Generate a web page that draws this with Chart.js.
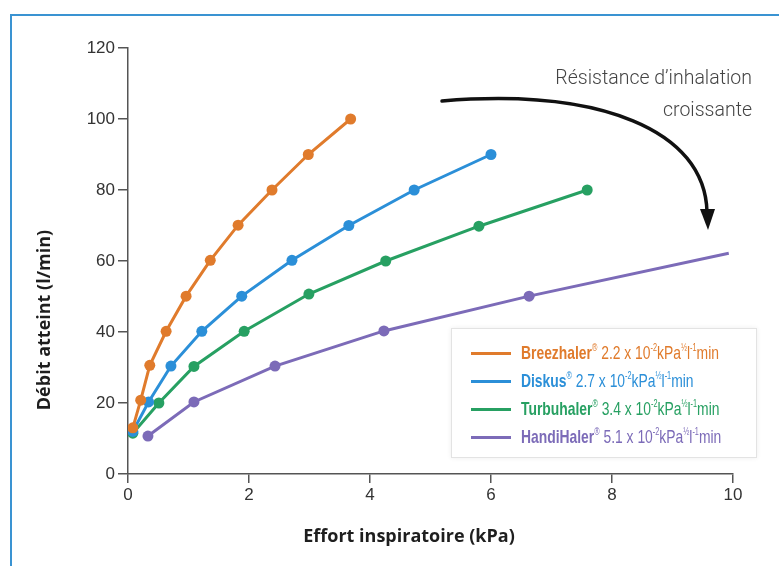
<!DOCTYPE html>
<html>
<head>
<meta charset="utf-8">
<script src="https://cdn.jsdelivr.net/npm/chart.js@4"></script>
<style>
  html, body { margin: 0; padding: 0; background: #fff; }
  #wrap { position: relative; width: 779px; height: 566px; overflow: hidden; }
  #frame { position: absolute; left: 10px; top: 14px; right: -5px; bottom: -5px;
           border-top: 2px solid #3a93d2; border-left: 2px solid #3a93d2; }
  #chart { position: absolute; left: 0; top: 0; }
  #legend { position: absolute; left: 451px; top: 328px; width: 306px; height: 130px;
            box-sizing: border-box; border: 1px solid #e3e3e3; background: #fff;
            box-shadow: 0 0 5px rgba(0,0,0,0.07); padding-top: 10px; }
  .row { height: 28px; display: flex; align-items: center; white-space: nowrap;
         font-family: 'Liberation Sans', Arial, sans-serif; font-size: 19px; }
  .sw { flex: none; width: 40px; height: 3px; margin-left: 19px; margin-right: 10px; }
  .lbl { display: inline-block; transform: scaleX(0.73); transform-origin: left center; }
  .lbl b { font-weight: bold; }
  .lbl sup { font-size: 10px; vertical-align: 8px; line-height: 0; }
</style>
</head>
<body>
<div id="wrap">
  <div id="frame"></div>
  <canvas id="chart" width="779" height="566"></canvas>
  <div id="legend"></div>
</div>
<script>
// ─── DONNÉES ───
const deviceNames = ['Breezhaler', 'Diskus', 'Turbuhaler', 'HandiHaler'];
const resistances = ['2.2', '2.7', '3.4', '5.1'];
const deviceColors = ['#e07b2c', '#2b8fd8', '#27a062', '#7c6bb8'];

const effortBreezhaler = [0.08, 0.21, 0.36, 0.63, 0.96, 1.36, 1.82, 2.38, 2.98, 3.68];
const debitBreezhaler  = [13, 20.8, 30.6, 40.2, 50.1, 60.2, 70.1, 80, 90, 100];

const effortDiskus = [0.08, 0.34, 0.71, 1.22, 1.88, 2.71, 3.65, 4.73, 6.0];
const debitDiskus  = [12, 20.3, 30.4, 40.2, 50.1, 60.2, 70, 80, 90];

const effortTurbuhaler = [0.08, 0.51, 1.09, 1.92, 2.99, 4.26, 5.8, 7.59];
const debitTurbuhaler  = [11.5, 20, 30.3, 40.2, 50.7, 60, 69.8, 80];

const effortHandiHaler = [0.33, 1.09, 2.43, 4.23, 6.63, 9.93];
const debitHandiHaler  = [10.7, 20.3, 30.4, 40.3, 50.1, 62.2];

const xTicks = [0, 2, 4, 6, 8, 10];
const yTicks = [0, 20, 40, 60, 80, 100, 120];

const xTitle = 'Effort inspiratoire (kPa)';
const yTitle = 'Débit atteint (l/min)';
const noteLines = ['Résistance d’inhalation', 'croissante'];

const seriesX = [effortBreezhaler, effortDiskus, effortTurbuhaler, effortHandiHaler];
const seriesY = [debitBreezhaler, debitDiskus, debitTurbuhaler, debitHandiHaler];

// ─── LÉGENDE ───
const legendEl = document.getElementById('legend');
deviceNames.forEach((name, i) => {
  const row = document.createElement('div');
  row.className = 'row';
  row.style.color = deviceColors[i];
  row.innerHTML = `<span class="sw" style="background:${deviceColors[i]}"></span>` +
    `<span class="lbl"><b>${name}</b><sup>®</sup> ${resistances[i]} x 10<sup>-2</sup>kPa<sup>½</sup>l<sup>-1</sup>min</span>`;
  legendEl.appendChild(row);
});

// ─── TITRES + FLÈCHE ───
const decorPlugin = {
  id: 'decor',
  afterDraw(chart) {
    const ctx = chart.ctx;
    ctx.save();
    ctx.fillStyle = '#1e1e1e';
    ctx.font = 'bold 18px "Open Sans", sans-serif';
    ctx.textAlign = 'center';
    ctx.textBaseline = 'middle';
    ctx.fillText(xTitle, 409, 537);
    ctx.translate(45, 320);
    ctx.rotate(-Math.PI / 2);
    ctx.fillText(yTitle, 0, 0);
    ctx.restore();

    ctx.save();
    ctx.fillStyle = '#444';
    ctx.font = '300 19.5px Roboto, sans-serif';
    ctx.textAlign = 'right';
    ctx.textBaseline = 'alphabetic';
    ctx.fillText(noteLines[0], 752, 84);
    ctx.fillText(noteLines[1], 752, 116);

    ctx.strokeStyle = '#111';
    ctx.lineWidth = 3.5;
    ctx.lineCap = 'round';
    ctx.beginPath();
    ctx.moveTo(442, 101);
    ctx.bezierCurveTo(600, 88, 705, 130, 707, 212);
    ctx.stroke();
    ctx.fillStyle = '#111';
    ctx.beginPath();
    ctx.moveTo(700, 209);
    ctx.lineTo(715, 209);
    ctx.lineTo(708, 230);
    ctx.closePath();
    ctx.fill();
    ctx.restore();
  }
};

const tickFont = { family: '"Liberation Sans", Arial, sans-serif', size: 17 };

new Chart(document.getElementById('chart'), {
  type: 'scatter',
  data: {
    datasets: deviceNames.map((name, i) => ({
      label: name,
      data: seriesX[i].map((x, j) => ({ x: x, y: seriesY[i][j] })),
      showLine: true,
      borderColor: deviceColors[i],
      backgroundColor: deviceColors[i],
      borderWidth: 3,
      pointRadius: name === 'HandiHaler' ? seriesX[i].map((_, j) => j === seriesX[i].length - 1 ? 0 : 5.5) : 5.5,
      pointBorderWidth: 0,
      tension: 0
    }))
  },
  options: {
    responsive: false,
    animation: false,
    layout: { padding: { top: 48, right: 46, left: 0, bottom: 0 } },
    plugins: { legend: { display: false }, tooltip: { enabled: false } },
    scales: {
      x: {
        type: 'linear', min: 0, max: 10,
        afterBuildTicks: s => { s.ticks = xTicks.map(v => ({ value: v })); },
        afterFit: s => { s.height = 92; },
        ticks: { color: '#333', font: tickFont, padding: 2 },
        grid: { drawOnChartArea: false, drawTicks: true, tickLength: 9, color: '#555', lineWidth: 1.5 },
        border: { color: '#555', width: 1.5 }
      },
      y: {
        type: 'linear', min: 0, max: 120,
        afterBuildTicks: s => { s.ticks = yTicks.map(v => ({ value: v })); },
        afterFit: s => { s.width = 128; },
        ticks: { color: '#333', font: tickFont, padding: 3 },
        grid: { drawOnChartArea: false, drawTicks: true, tickLength: 10, color: '#555', lineWidth: 1.5 },
        border: { color: '#555', width: 1.5 }
      }
    }
  },
  plugins: [decorPlugin]
});
</script>
</body>
</html>
